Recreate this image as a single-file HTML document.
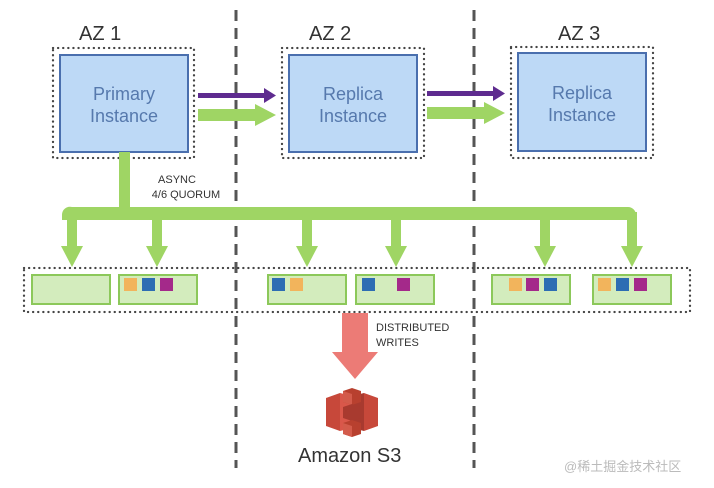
<!DOCTYPE html>
<html><head><meta charset="utf-8"><style>
html,body{margin:0;padding:0;background:#fff;}
svg{display:block;font-family:"Liberation Sans",Arial,sans-serif;}
</style></head><body>
<svg width="714" height="488" viewBox="0 0 714 488" xmlns="http://www.w3.org/2000/svg">
<line x1="236" y1="10" x2="236" y2="468" stroke="#555" stroke-width="3" stroke-dasharray="11,7"/>
<line x1="474" y1="10" x2="474" y2="468" stroke="#555" stroke-width="3" stroke-dasharray="11,7"/>

<g font-size="20" fill="#333">
<text x="79" y="40">AZ 1</text>
<text x="309" y="40">AZ 2</text>
<text x="558" y="40">AZ 3</text>
</g>

<g fill="none" stroke="#444" stroke-width="2.3" stroke-dasharray="0.1,5" stroke-linecap="round">
<rect x="53" y="48" width="141" height="110"/>
<rect x="282" y="48" width="142" height="110"/>
<rect x="511" y="47" width="142" height="111"/>
<rect x="24" y="268" width="666" height="44"/>
</g>

<g fill="#bdd9f6" stroke="#4a6fae" stroke-width="2">
<rect x="60" y="55" width="128" height="97"/>
<rect x="289" y="55" width="128" height="97"/>
<rect x="518" y="53" width="128" height="98"/>
</g>
<g font-size="18" fill="#5679ad" text-anchor="middle">
<text x="124" y="100">Primary</text><text x="124" y="122">Instance</text>
<text x="353" y="100">Replica</text><text x="353" y="122">Instance</text>
<text x="582" y="99">Replica</text><text x="582" y="121">Instance</text>
</g>

<g fill="#5e2b8f">
<rect x="198" y="93" width="68" height="5"/><polygon points="264,88 276,95.5 264,103"/>
<rect x="427" y="91" width="68" height="5"/><polygon points="493,86 505,93.5 493,101"/>
</g>
<g fill="#9fd564">
<rect x="198" y="109" width="58" height="12"/><polygon points="255,104 276,115 255,126"/>
<rect x="427" y="107" width="58" height="12"/><polygon points="484,102 505,113 484,124"/>
</g>

<g fill="#9fd564">
<rect x="119" y="152" width="11" height="62"/>
<path d="M72,207 H628 a8,8 0 0 1 8,8 V220 H62 V215 a8,8 0 0 1 10,-8 Z"/>
<rect x="67" y="212" width="10" height="36"/><polygon points="61,246 83,246 72,267"/>
<rect x="152" y="212" width="10" height="36"/><polygon points="146,246 168,246 157,267"/>
<rect x="302" y="212" width="10" height="36"/><polygon points="296,246 318,246 307,267"/>
<rect x="391" y="212" width="10" height="36"/><polygon points="385,246 407,246 396,267"/>
<rect x="540" y="212" width="10" height="36"/><polygon points="534,246 556,246 545,267"/>
<rect x="627" y="212" width="10" height="36"/><polygon points="621,246 643,246 632,267"/>
</g>
<g font-size="11" fill="#333" text-anchor="middle">
<text x="177" y="183">ASYNC</text>
<text x="186" y="198">4/6 QUORUM</text>
</g>

<g fill="#d3ecbd" stroke="#8cc85a" stroke-width="2">
<rect x="32" y="275" width="78" height="29"/>
<rect x="119" y="275" width="78" height="29"/>
<rect x="268" y="275" width="78" height="29"/>
<rect x="356" y="275" width="78" height="29"/>
<rect x="492" y="275" width="78" height="29"/>
<rect x="593" y="275" width="78" height="29"/>
</g>
<g>
<rect x="124" y="278" width="13" height="13" fill="#f2b45c"/>
<rect x="142" y="278" width="13" height="13" fill="#2d6db3"/>
<rect x="160" y="278" width="13" height="13" fill="#a4298a"/>
<rect x="272" y="278" width="13" height="13" fill="#2d6db3"/>
<rect x="290" y="278" width="13" height="13" fill="#f2b45c"/>
<rect x="362" y="278" width="13" height="13" fill="#2d6db3"/>
<rect x="397" y="278" width="13" height="13" fill="#a4298a"/>
<rect x="509" y="278" width="13" height="13" fill="#f2b45c"/>
<rect x="526" y="278" width="13" height="13" fill="#a4298a"/>
<rect x="544" y="278" width="13" height="13" fill="#2d6db3"/>
<rect x="598" y="278" width="13" height="13" fill="#f2b45c"/>
<rect x="616" y="278" width="13" height="13" fill="#2d6db3"/>
<rect x="634" y="278" width="13" height="13" fill="#a4298a"/>
</g>

<g fill="#ec7b76">
<rect x="342" y="313" width="26" height="40"/>
<polygon points="332,352 378,352 355,379"/>
</g>
<g font-size="11" fill="#333">
<text x="376" y="331">DISTRIBUTED</text>
<text x="376" y="346">WRITES</text>
</g>

<g>
<polygon points="326,398 340,393 340,431 326,426" fill="#c7483a"/>
<polygon points="378,398 364,393 364,431 378,426" fill="#c7483a"/>
<polygon points="340,393 352,396 352,428 340,431" fill="#d9574a"/>
<polygon points="364,393 352,396 352,428 364,431" fill="#a83a2f"/>
<polygon points="343,391 352,388 361,391 361,402 352,405 343,402" fill="#b8402f"/>
<polygon points="343,391 352,394 352,405 343,402" fill="#d35b4b"/>
<polygon points="343,407 352,404 361,407 361,418 352,421 343,418" fill="#a83a2f"/>
<polygon points="343,423 352,420 361,423 361,434 352,437 343,434" fill="#b8402f"/>
<polygon points="343,423 352,426 352,437 343,434" fill="#d35b4b"/>
</g>
<text x="298" y="462" font-size="20" fill="#333">Amazon S3</text>

<text x="564" y="471" font-size="13" fill="#bbbbbb" font-family="'Liberation Sans','Noto Sans CJK SC',sans-serif">@稀土掘金技术社区</text>
</svg>
</body></html>
